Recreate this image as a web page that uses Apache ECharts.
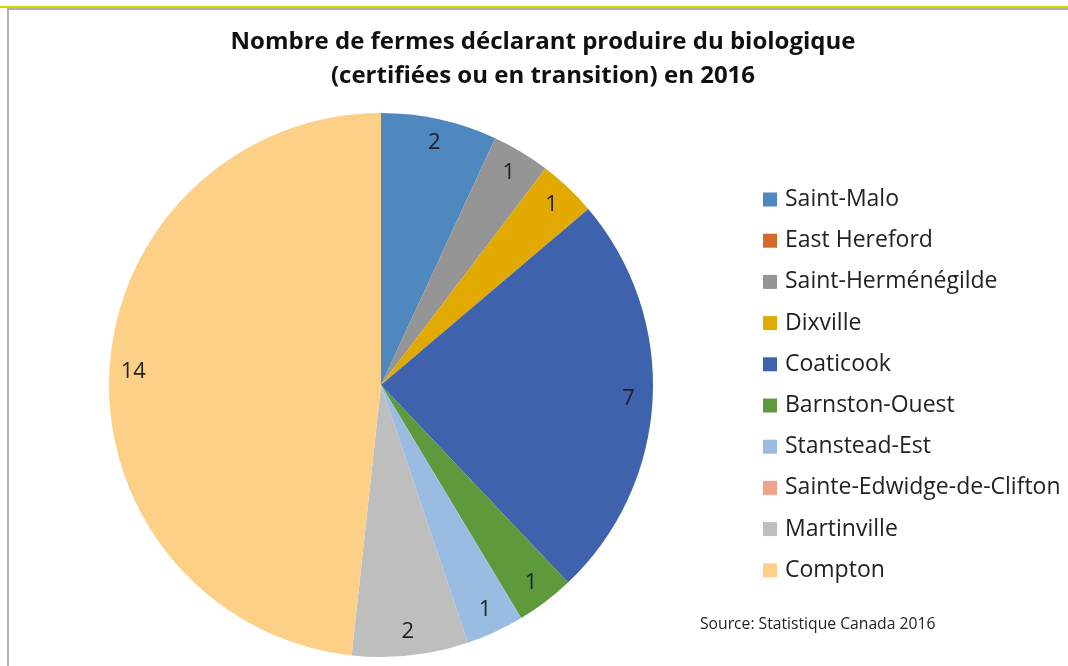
<!DOCTYPE html>
<html>
<head>
<meta charset="utf-8">
<script src="https://cdn.jsdelivr.net/npm/echarts@6/dist/echarts.min.js"></script>
<style>
  html, body { margin: 0; padding: 0; background: #fff; }
  #grafica { width: 1068px; height: 666px; }
</style>
</head>
<body>
<div id="grafica"></div>
<script>
let municipalites = ['Saint-Malo', 'East Hereford', 'Saint-Herménégilde', 'Dixville', 'Coaticook',
  'Barnston-Ouest', 'Stanstead-Est', 'Sainte-Edwidge-de-Clifton', 'Martinville', 'Compton'];
let fermes = [2, 0, 1, 1, 7, 1, 1, 0, 2, 14];
let couleurs = ['#4e88be', '#d36a2a', '#959595', '#e2aa00', '#3e63ac',
  '#5e9a3c', '#9bbce2', '#f0a38a', '#bebebe', '#fdd088'];

let police = '"Open Sans", Lato, sans-serif';

let donnees = municipalites.map((nom, i) => ({
  name: nom,
  value: fermes[i],
  itemStyle: { color: couleurs[i] }
}));

// deuxieme pie transparent juste pour placer les etiquettes pres du bord
let etiquettes = municipalites.map((nom, i) => ({
  name: nom,
  value: fermes[i],
  label: { show: fermes[i] > 0 }
}));

let chartDom = document.getElementById('grafica');
let myChart = echarts.init(chartDom, null, { renderer: 'canvas' });

let option = {
  animation: false,
  backgroundColor: '#fff',
  title: {
    text: 'Nombre de fermes déclarant produire du biologique\n(certifiées ou en transition) en 2016',
    left: 543,
    top: 25,
    textAlign: 'center',
    padding: 0,
    textStyle: {
      fontFamily: police,
      fontWeight: 'bold',
      fontSize: 24,
      lineHeight: 34,
      color: '#111'
    }
  },
  legend: {
    orient: 'vertical',
    left: 763,
    top: 188,
    padding: 0,
    data: municipalites,
    icon: 'rect',
    itemWidth: 14,
    itemHeight: 14,
    itemGap: 18.2,
    selectedMode: false,
    textStyle: {
      fontFamily: police,
      fontSize: 23,
      lineHeight: 20,
      color: '#222',
      padding: [0, 0, 0, 3]
    }
  },
  graphic: [
    { type: 'rect', shape: { x: 0, y: 6, width: 1068, height: 2 }, style: { fill: '#d8d800' } },
    { type: 'rect', shape: { x: 8, y: 9, width: 1100, height: 700 }, style: { fill: 'none', stroke: '#b0b0b0', lineWidth: 2 } },
    {
      type: 'text', left: 700, top: 617,
      style: { text: 'Source: Statistique Canada 2016', font: '15.7px ' + police, fill: '#222' }
    }
  ],
  series: [
    {
      type: 'pie',
      center: [381, 385],
      radius: [0, 272],
      startAngle: 90,
      clockwise: true,
      minAngle: 0,
      avoidLabelOverlap: false,
      label: { show: false },
      labelLine: { show: false },
      itemStyle: { borderWidth: 0 },
      emphasis: { disabled: true },
      data: donnees
    },
    {
      type: 'pie',
      center: [381, 385],
      radius: [218, 272],
      startAngle: 90,
      clockwise: true,
      silent: true,
      avoidLabelOverlap: false,
      itemStyle: { color: 'rgba(0,0,0,0)', borderWidth: 0 },
      label: {
        position: 'inside',
        formatter: '{c}',
        fontFamily: police,
        fontSize: 22,
        color: '#222'
      },
      labelLine: { show: false },
      emphasis: { disabled: true },
      data: etiquettes
    }
  ]
};

myChart.setOption(option);
</script>
</body>
</html>
